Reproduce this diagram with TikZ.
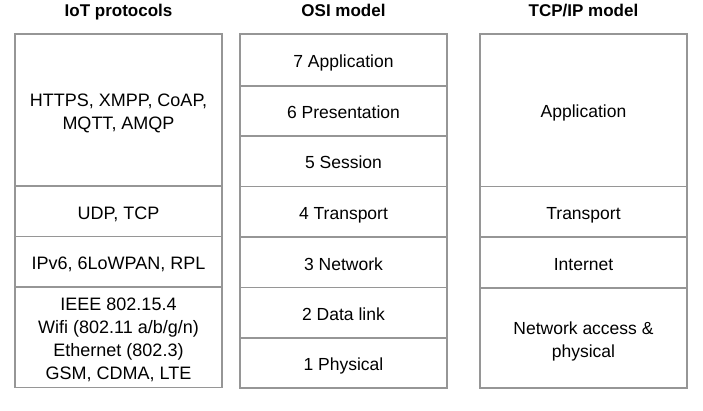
\documentclass[tikz,border=0pt]{standalone}
\usepackage{fontspec}
\setmainfont{Liberation Sans}
\definecolor{rule}{RGB}{150,150,150}
% stacked lines, referenced at the baseline of the first line
\newcommand{\stack}[1]{\begin{tabular}[t]{@{}c@{}}#1\end{tabular}}
\begin{document}
\begin{tikzpicture}[x=1pt,y=-1pt,
  cell/.style={draw=rule,line width=1.1pt,minimum width=207pt,inner sep=0pt,align=center},
  iot/.style={cell,font=\fontsize{18}{23}\selectfont,text height=15.9pt,text depth=#1},
  iot/.default=0pt,
  layer/.style={cell,font=\fontsize{17.5}{23}\selectfont,text height=15.5pt,text depth=#1},
  layer/.default=0pt,
  heading/.style={font=\fontsize{17}{20}\selectfont\bfseries,anchor=base}]
\useasboundingbox (0,0) rectangle (703,411);
% column headings
\node[heading] (h1) at (118.5,17) {IoT protocols};
\node[heading] (h2) at (343.5,17) {OSI model};
\node[heading] (h3) at (583.5,17) {TCP/IP model};
% IoT protocol stack
\node[iot=23pt,minimum height=152pt] (i4) at (118.5,110) {\stack{HTTPS, XMPP, CoAP,\\MQTT, AMQP}};
\node[iot,minimum height=50.5pt] (i3) at (118.5,211.25) {UDP, TCP};
\node[iot,minimum height=50.5pt] (i2) at (118.5,261.75) {IPv6, 6LoWPAN, RPL};
\node[iot=69pt,minimum height=100.5pt] (i1) at (118.5,337.25) {\stack{IEEE 802.15.4\\Wifi (802.11 a/b/g/n)\\Ethernet (802.3)\\GSM, CDMA, LTE}};
% OSI layers
\node[layer,minimum height=52pt] (o7) at (343.5,60) {7 Application};
\node[layer,minimum height=50pt] (o6) at (343.5,111) {6 Presentation};
\node[layer,minimum height=50.5pt] (o5) at (343.5,161.25) {5 Session};
\node[layer,minimum height=50.5pt] (o4) at (343.5,211.75) {4 Transport};
\node[layer,minimum height=50.5pt] (o3) at (343.5,262.25) {3 Network};
\node[layer,minimum height=50.5pt] (o2) at (343.5,312.75) {2 Data link};
\node[layer,minimum height=50pt] (o1) at (343.5,363) {1 Physical};
% TCP/IP layers
\node[layer,minimum height=152.5pt] (t4) at (583.5,110.25) {Application};
\node[layer,minimum height=50.5pt] (t3) at (583.5,211.75) {Transport};
\node[layer,minimum height=51pt] (t2) at (583.5,262.5) {Internet};
\node[layer=23pt,minimum height=100pt] (t1) at (583.5,338) {\stack{Network access \&\\physical}};
\end{tikzpicture}
\end{document}
